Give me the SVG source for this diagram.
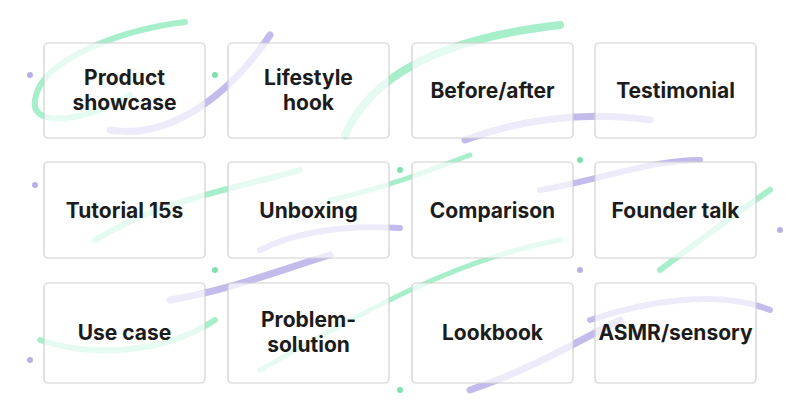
<svg xmlns="http://www.w3.org/2000/svg" width="800" height="420" viewBox="0 0 800 420">
<style>
.box{fill:#fff;fill-opacity:0.7;stroke:#cfcfcf;stroke-width:1.2}
.t{font-family:Inter,"Liberation Sans",sans-serif;font-weight:700;font-size:21px;fill:#1c1c1c;text-anchor:middle}
.g{fill:none;stroke:#5fe0a0;stroke-linecap:round;opacity:0.55}
.p{fill:none;stroke:#9a8ee0;stroke-linecap:round;opacity:0.6}
.dg{fill:#7fe0b0}.dp{fill:#b8b0ea}
</style>
<rect width="800" height="420" fill="#fff"/>
<g id="decor">
<path class="g" stroke-width="6" d="M185 22 C120 30 40 60 35 100 C30 130 90 120 130 95"/>
<path class="p" stroke-width="7" d="M110 130 C170 140 230 95 270 35"/>
<path class="g" stroke-width="8" d="M345 135 C370 80 430 40 560 25"/>
<path class="p" stroke-width="7" d="M465 140 C520 120 580 110 650 120"/>
<path class="g" stroke-width="6" d="M95 240 C160 200 230 190 300 170"/>
<path class="g" stroke-width="5" d="M330 200 C380 190 430 170 470 155"/>
<path class="p" stroke-width="6" d="M540 190 C600 180 650 160 700 160"/>
<path class="g" stroke-width="6" d="M660 270 C700 240 740 210 770 190"/>
<path class="p" stroke-width="6" d="M260 250 C300 230 350 225 400 228"/>
<path class="p" stroke-width="7" d="M170 300 C230 290 280 270 330 255"/>
<path class="g" stroke-width="6" d="M40 340 C100 360 170 350 215 320"/>
<path class="g" stroke-width="5" d="M260 370 C350 320 450 260 560 240"/>
<path class="p" stroke-width="7" d="M470 390 C530 370 580 340 620 320"/>
<path class="p" stroke-width="6" d="M590 320 C650 300 720 290 770 310"/>
<circle class="dg" cx="215" cy="75" r="3"/><circle class="dp" cx="30" cy="75" r="3"/>
<circle class="dg" cx="400" cy="170" r="3"/><circle class="dp" cx="35" cy="185" r="3"/>
<circle class="dg" cx="580" cy="160" r="3"/><circle class="dp" cx="780" cy="230" r="3"/>
<circle class="dg" cx="215" cy="270" r="3"/><circle class="dp" cx="30" cy="360" r="3"/>
<circle class="dg" cx="400" cy="390" r="3"/><circle class="dp" cx="580" cy="270" r="3"/>
</g>
<g id="n1"><rect class="box" x="44" y="43" width="161" height="95" rx="4"/><text class="t" x="124.5" y="85">Product</text><text class="t" x="124.5" y="110">showcase</text></g>
<g id="n2"><rect class="box" x="228" y="43" width="161" height="95" rx="4"/><text class="t" x="308.5" y="85">Lifestyle</text><text class="t" x="308.5" y="110">hook</text></g>
<g id="n3"><rect class="box" x="412" y="43" width="161" height="95" rx="4"/><text class="t" x="492.5" y="98">Before/after</text></g>
<g id="n4"><rect class="box" x="595" y="43" width="161" height="95" rx="4"/><text class="t" x="675.5" y="98">Testimonial</text></g>
<g id="n5"><rect class="box" x="44" y="162" width="161" height="96" rx="4"/><text class="t" x="124.5" y="218">Tutorial 15s</text></g>
<g id="n6"><rect class="box" x="228" y="162" width="161" height="96" rx="4"/><text class="t" x="308.5" y="218">Unboxing</text></g>
<g id="n7"><rect class="box" x="412" y="162" width="161" height="96" rx="4"/><text class="t" x="492.5" y="218">Comparison</text></g>
<g id="n8"><rect class="box" x="595" y="162" width="161" height="96" rx="4"/><text class="t" x="675.5" y="218">Founder talk</text></g>
<g id="n9"><rect class="box" x="44" y="283" width="161" height="100" rx="4"/><text class="t" x="124.5" y="340">Use case</text></g>
<g id="n10"><rect class="box" x="228" y="283" width="161" height="100" rx="4"/><text class="t" x="308.5" y="327">Problem-</text><text class="t" x="308.5" y="352">solution</text></g>
<g id="n11"><rect class="box" x="412" y="283" width="161" height="100" rx="4"/><text class="t" x="492.5" y="340">Lookbook</text></g>
<g id="n12"><rect class="box" x="595" y="283" width="161" height="100" rx="4"/><text class="t" x="675.5" y="340">ASMR/sensory</text></g>
<g id="connectors"/>
</svg>
